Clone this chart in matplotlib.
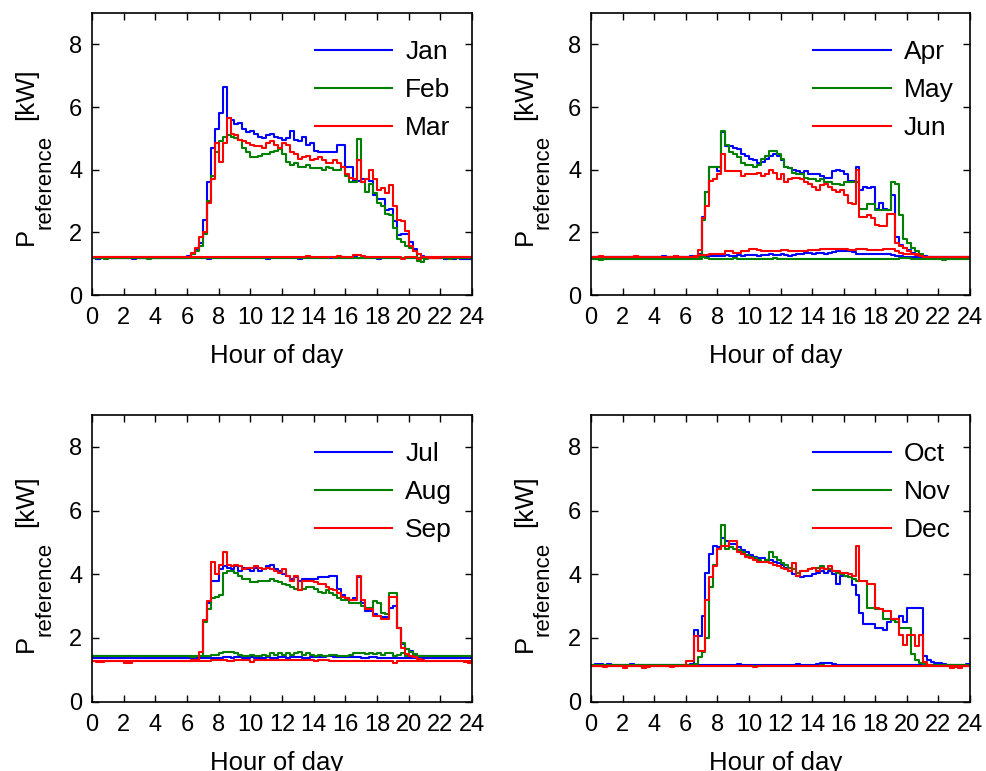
import numpy as np
import matplotlib
matplotlib.use("Agg")
import matplotlib.pyplot as plt
from matplotlib.transforms import offset_copy

plt.rcParams['font.family'] = ['Liberation Sans', 'DejaVu Sans']
plt.rcParams['font.size'] = 17

# quarter-hour mean load [kW], weekday profile (wd) and weekend profile (we)
# each row = 4 hours (16 quarter-hours)

jan_wd = [
    1.18, 1.15, 1.18, 1.18, 1.18, 1.18, 1.18, 1.18, 1.18, 1.18, 1.18, 1.18, 1.18, 1.18, 1.18, 1.18,
    1.18, 1.18, 1.18, 1.18, 1.18, 1.18, 1.18, 1.18, 1.25, 1.30, 1.45, 1.65, 2.40, 3.60, 4.70, 5.30,
    5.80, 6.65, 5.65, 5.60, 5.45, 5.50, 5.30, 5.20, 5.25, 5.15, 5.05, 5.00, 5.10, 5.15, 5.05, 5.00,
    4.95, 5.00, 5.25, 4.95, 4.90, 5.05, 4.80, 4.85, 4.60, 4.55, 4.55, 4.55, 4.55, 4.55, 4.80, 4.80,
    4.10, 4.10, 3.65, 3.65, 3.70, 3.70, 3.65, 3.20, 3.05, 3.05, 2.70, 2.75, 2.35, 1.90, 1.95, 1.95,
    1.68, 1.47, 1.30, 1.25, 1.22, 1.20, 1.18, 1.18, 1.18, 1.15, 1.18, 1.15, 1.18, 1.15, 1.15, 1.15]
feb_wd = [
    1.18, 1.18, 1.18, 1.16, 1.18, 1.18, 1.18, 1.18, 1.18, 1.18, 1.18, 1.18, 1.18, 1.18, 1.16, 1.18,
    1.18, 1.18, 1.18, 1.18, 1.18, 1.18, 1.18, 1.18, 1.20, 1.30, 1.40, 1.55, 1.95, 3.00, 3.80, 4.55,
    4.90, 5.05, 5.10, 5.05, 5.00, 4.95, 4.70, 4.55, 4.40, 4.40, 4.45, 4.50, 4.50, 4.55, 4.60, 4.65,
    4.50, 4.25, 4.15, 4.20, 4.10, 4.10, 4.15, 4.05, 4.05, 4.05, 4.00, 4.10, 4.05, 4.00, 4.00, 4.10,
    3.80, 3.60, 3.60, 4.99, 3.60, 3.30, 3.55, 3.25, 2.95, 2.85, 2.60, 2.55, 2.15, 1.80, 1.70, 1.55,
    1.50, 1.40, 1.10, 1.05, 1.15, 1.18, 1.18, 1.18, 1.18, 1.18, 1.16, 1.18, 1.18, 1.18, 1.18, 1.18]
mar_wd = [
    1.20, 1.20, 1.20, 1.20, 1.20, 1.20, 1.20, 1.20, 1.20, 1.20, 1.20, 1.20, 1.20, 1.20, 1.20, 1.20,
    1.20, 1.20, 1.20, 1.20, 1.20, 1.20, 1.20, 1.20, 1.20, 1.35, 1.50, 1.85, 2.00, 2.95, 3.70, 4.85,
    4.25, 4.85, 5.65, 5.15, 5.10, 4.95, 4.90, 4.85, 4.80, 4.75, 4.75, 4.70, 4.85, 4.90, 4.80, 4.70,
    4.85, 4.80, 4.55, 4.50, 4.35, 4.40, 4.45, 4.30, 4.35, 4.40, 4.30, 4.20, 4.20, 4.30, 4.20, 4.10,
    3.85, 3.75, 3.70, 4.30, 3.60, 3.70, 4.00, 3.70, 3.35, 3.40, 3.25, 3.50, 2.85, 2.40, 2.35, 2.05,
    1.55, 1.40, 1.30, 1.22, 1.20, 1.18, 1.18, 1.18, 1.20, 1.20, 1.20, 1.20, 1.20, 1.20, 1.20, 1.20]
jan_we = [
    1.18, 1.15, 1.18, 1.18, 1.18, 1.18, 1.18, 1.18, 1.18, 1.18, 1.15, 1.18, 1.18, 1.18, 1.18, 1.18,
    1.18, 1.18, 1.18, 1.18, 1.18, 1.18, 1.18, 1.18, 1.18, 1.18, 1.18, 1.18, 1.18, 1.16, 1.18, 1.18,
    1.18, 1.18, 1.18, 1.18, 1.18, 1.18, 1.18, 1.18, 1.18, 1.18, 1.18, 1.18, 1.15, 1.18, 1.18, 1.18,
    1.18, 1.18, 1.18, 1.18, 1.16, 1.18, 1.18, 1.18, 1.18, 1.18, 1.18, 1.18, 1.18, 1.18, 1.18, 1.18,
    1.18, 1.18, 1.20, 1.18, 1.18, 1.18, 1.18, 1.18, 1.15, 1.18, 1.18, 1.18, 1.18, 1.18, 1.18, 1.18,
    1.18, 1.18, 1.18, 1.18, 1.18, 1.18, 1.18, 1.18, 1.18, 1.15, 1.18, 1.15, 1.18, 1.15, 1.15, 1.15]
feb_we = [
    1.18, 1.18, 1.18, 1.18, 1.18, 1.18, 1.18, 1.18, 1.18, 1.18, 1.18, 1.18, 1.18, 1.18, 1.18, 1.18,
    1.18, 1.18, 1.18, 1.18, 1.18, 1.18, 1.18, 1.18, 1.18, 1.18, 1.18, 1.18, 1.18, 1.18, 1.18, 1.18,
    1.18, 1.18, 1.18, 1.18, 1.18, 1.18, 1.18, 1.18, 1.18, 1.18, 1.18, 1.18, 1.18, 1.18, 1.18, 1.18,
    1.18, 1.18, 1.18, 1.18, 1.18, 1.18, 1.18, 1.18, 1.18, 1.18, 1.18, 1.18, 1.20, 1.18, 1.18, 1.18,
    1.18, 1.18, 1.18, 1.18, 1.18, 1.18, 1.18, 1.18, 1.18, 1.18, 1.18, 1.18, 1.18, 1.18, 1.18, 1.18,
    1.18, 1.18, 1.18, 1.18, 1.18, 1.18, 1.18, 1.18, 1.18, 1.18, 1.18, 1.18, 1.18, 1.18, 1.18, 1.18]
mar_we = [
    1.20, 1.20, 1.20, 1.20, 1.20, 1.20, 1.20, 1.20, 1.20, 1.20, 1.20, 1.20, 1.20, 1.20, 1.20, 1.20,
    1.20, 1.20, 1.20, 1.20, 1.20, 1.20, 1.20, 1.20, 1.20, 1.20, 1.20, 1.20, 1.20, 1.20, 1.20, 1.20,
    1.20, 1.20, 1.20, 1.20, 1.20, 1.20, 1.20, 1.20, 1.20, 1.20, 1.20, 1.20, 1.22, 1.20, 1.20, 1.20,
    1.20, 1.20, 1.20, 1.20, 1.20, 1.20, 1.24, 1.20, 1.20, 1.20, 1.20, 1.20, 1.20, 1.20, 1.25, 1.20,
    1.20, 1.20, 1.28, 1.28, 1.24, 1.20, 1.20, 1.20, 1.20, 1.20, 1.22, 1.20, 1.20, 1.20, 1.15, 1.20,
    1.20, 1.20, 1.15, 1.20, 1.20, 1.20, 1.20, 1.20, 1.20, 1.20, 1.20, 1.20, 1.20, 1.20, 1.20, 1.20]

apr_wd = [
    1.22, 1.20, 1.22, 1.22, 1.20, 1.22, 1.22, 1.20, 1.22, 1.22, 1.20, 1.22, 1.22, 1.22, 1.22, 1.20,
    1.22, 1.22, 1.25, 1.22, 1.22, 1.25, 1.22, 1.22, 1.22, 1.25, 1.25, 1.30, 2.50, 3.30, 4.10, 4.10,
    3.95, 5.20, 4.75, 4.75, 4.70, 4.65, 4.50, 4.45, 4.35, 4.30, 4.20, 4.25, 4.35, 4.45, 4.50, 4.45,
    4.30, 4.10, 4.05, 4.00, 3.95, 3.90, 3.95, 3.85, 3.85, 3.85, 3.80, 3.75, 3.75, 3.95, 4.00, 3.95,
    3.85, 3.65, 3.65, 4.10, 3.35, 3.45, 3.40, 3.45, 2.75, 2.95, 2.75, 2.70, 3.20, 1.85, 1.60, 1.50,
    1.45, 1.35, 1.30, 1.28, 1.25, 1.22, 1.22, 1.20, 1.22, 1.22, 1.20, 1.22, 1.22, 1.22, 1.20, 1.22]
may_wd = [
    1.15, 1.15, 1.12, 1.15, 1.15, 1.15, 1.15, 1.15, 1.15, 1.15, 1.15, 1.15, 1.15, 1.15, 1.15, 1.15,
    1.15, 1.15, 1.15, 1.15, 1.15, 1.15, 1.15, 1.15, 1.15, 1.15, 1.20, 1.20, 2.40, 3.30, 4.10, 4.10,
    4.10, 5.25, 4.80, 4.55, 4.50, 4.40, 4.20, 4.15, 4.15, 4.10, 4.15, 4.35, 4.45, 4.60, 4.60, 4.50,
    4.35, 4.10, 4.05, 3.90, 3.85, 3.85, 3.75, 3.70, 3.70, 3.65, 3.70, 3.60, 3.60, 3.55, 3.55, 3.50,
    3.60, 3.60, 3.60, 3.60, 2.75, 2.75, 2.90, 2.90, 2.70, 2.70, 2.70, 2.70, 3.60, 3.55, 2.55, 1.80,
    1.65, 1.50, 1.40, 1.30, 1.22, 1.20, 1.18, 1.15, 1.15, 1.12, 1.15, 1.15, 1.15, 1.15, 1.15, 1.15]
jun_wd = [
    1.22, 1.22, 1.25, 1.22, 1.22, 1.22, 1.20, 1.22, 1.22, 1.22, 1.22, 1.25, 1.22, 1.20, 1.20, 1.22,
    1.22, 1.22, 1.22, 1.22, 1.22, 1.25, 1.22, 1.22, 1.22, 1.22, 1.25, 1.43, 2.45, 2.85, 3.65, 3.70,
    3.85, 4.50, 3.95, 3.95, 3.95, 3.95, 3.80, 3.85, 3.85, 3.85, 3.90, 3.80, 3.85, 4.00, 3.90, 3.70,
    3.85, 3.60, 3.70, 3.75, 3.75, 3.70, 3.60, 3.55, 3.45, 3.35, 3.50, 3.55, 3.45, 3.35, 3.30, 3.35,
    3.20, 2.95, 2.90, 4.00, 2.50, 2.50, 2.55, 2.45, 2.25, 2.20, 2.20, 2.60, 2.60, 1.65, 1.55, 1.50,
    1.40, 1.32, 1.30, 1.25, 1.22, 1.20, 1.22, 1.22, 1.22, 1.22, 1.22, 1.22, 1.22, 1.22, 1.22, 1.22]
apr_we = [
    1.22, 1.22, 1.22, 1.22, 1.22, 1.22, 1.22, 1.22, 1.22, 1.22, 1.22, 1.22, 1.22, 1.22, 1.22, 1.22,
    1.22, 1.22, 1.22, 1.22, 1.22, 1.22, 1.22, 1.22, 1.22, 1.22, 1.22, 1.22, 1.22, 1.24, 1.24, 1.25,
    1.25, 1.25, 1.28, 1.25, 1.25, 1.28, 1.25, 1.28, 1.28, 1.28, 1.25, 1.28, 1.28, 1.30, 1.28, 1.28,
    1.30, 1.28, 1.25, 1.28, 1.30, 1.30, 1.35, 1.35, 1.32, 1.35, 1.35, 1.30, 1.35, 1.38, 1.42, 1.42,
    1.42, 1.42, 1.38, 1.30, 1.30, 1.30, 1.32, 1.30, 1.30, 1.30, 1.30, 1.30, 1.28, 1.25, 1.25, 1.22,
    1.22, 1.22, 1.22, 1.22, 1.22, 1.22, 1.22, 1.22, 1.22, 1.22, 1.22, 1.22, 1.22, 1.22, 1.22, 1.22]
may_we = [
    1.15, 1.15, 1.15, 1.15, 1.15, 1.15, 1.15, 1.15, 1.15, 1.15, 1.15, 1.15, 1.15, 1.15, 1.15, 1.15,
    1.15, 1.15, 1.15, 1.15, 1.15, 1.15, 1.15, 1.15, 1.15, 1.15, 1.15, 1.15, 1.20, 1.18, 1.15, 1.15,
    1.15, 1.15, 1.15, 1.15, 1.18, 1.15, 1.15, 1.15, 1.15, 1.15, 1.15, 1.15, 1.15, 1.15, 1.18, 1.15,
    1.15, 1.15, 1.15, 1.15, 1.15, 1.15, 1.15, 1.15, 1.15, 1.15, 1.15, 1.15, 1.15, 1.15, 1.15, 1.15,
    1.15, 1.15, 1.15, 1.15, 1.15, 1.15, 1.15, 1.15, 1.15, 1.15, 1.15, 1.15, 1.15, 1.15, 1.18, 1.18,
    1.18, 1.15, 1.15, 1.15, 1.15, 1.15, 1.15, 1.15, 1.15, 1.15, 1.15, 1.15, 1.15, 1.15, 1.15, 1.15]
jun_we = [
    1.22, 1.22, 1.22, 1.22, 1.22, 1.22, 1.22, 1.22, 1.22, 1.22, 1.22, 1.22, 1.22, 1.22, 1.22, 1.22,
    1.22, 1.22, 1.22, 1.22, 1.22, 1.22, 1.22, 1.22, 1.22, 1.22, 1.22, 1.28, 1.28, 1.28, 1.30, 1.30,
    1.30, 1.32, 1.42, 1.42, 1.35, 1.35, 1.40, 1.40, 1.48, 1.48, 1.45, 1.40, 1.40, 1.42, 1.42, 1.40,
    1.45, 1.45, 1.40, 1.40, 1.40, 1.40, 1.42, 1.45, 1.45, 1.45, 1.48, 1.48, 1.48, 1.48, 1.48, 1.48,
    1.48, 1.45, 1.45, 1.48, 1.48, 1.48, 1.45, 1.45, 1.45, 1.45, 1.48, 1.48, 1.48, 1.40, 1.35, 1.32,
    1.32, 1.32, 1.28, 1.25, 1.22, 1.22, 1.22, 1.22, 1.22, 1.22, 1.22, 1.22, 1.22, 1.22, 1.22, 1.22]

jul_wd = [
    1.42, 1.45, 1.40, 1.40, 1.40, 1.40, 1.40, 1.40, 1.40, 1.42, 1.40, 1.38, 1.40, 1.40, 1.40, 1.40,
    1.40, 1.40, 1.40, 1.40, 1.40, 1.40, 1.40, 1.40, 1.40, 1.40, 1.40, 1.45, 2.55, 3.10, 3.80, 3.80,
    4.15, 4.25, 4.20, 4.15, 4.25, 4.10, 4.20, 4.15, 4.10, 4.20, 4.10, 4.15, 4.25, 4.30, 4.15, 4.10,
    4.00, 3.95, 3.85, 3.90, 3.80, 3.85, 3.85, 3.85, 3.85, 3.90, 3.90, 3.90, 3.95, 3.95, 3.55, 3.35,
    3.25, 3.20, 3.25, 3.90, 3.10, 2.85, 2.85, 2.75, 2.70, 2.65, 2.65, 2.95, 3.00, 2.30, 1.80, 1.65,
    1.60, 1.50, 1.45, 1.42, 1.40, 1.40, 1.40, 1.40, 1.40, 1.40, 1.40, 1.40, 1.40, 1.40, 1.40, 1.40]
aug_wd = [
    1.42, 1.42, 1.45, 1.42, 1.42, 1.42, 1.42, 1.42, 1.42, 1.42, 1.42, 1.42, 1.42, 1.42, 1.42, 1.42,
    1.42, 1.42, 1.42, 1.42, 1.42, 1.42, 1.42, 1.42, 1.42, 1.40, 1.42, 1.45, 2.50, 2.90, 3.25, 3.30,
    3.35, 4.05, 4.10, 4.10, 4.05, 3.95, 3.85, 3.85, 3.75, 3.75, 3.80, 3.80, 3.80, 3.85, 3.80, 3.75,
    3.70, 3.65, 3.60, 3.55, 3.50, 3.55, 3.60, 3.60, 3.55, 3.45, 3.40, 3.50, 3.40, 3.35, 3.25, 3.20,
    3.20, 3.10, 3.10, 3.10, 3.00, 2.95, 2.95, 3.15, 3.10, 2.80, 2.75, 3.40, 3.40, 2.30, 1.85, 1.65,
    1.55, 1.50, 1.45, 1.42, 1.42, 1.42, 1.42, 1.42, 1.42, 1.42, 1.42, 1.42, 1.42, 1.42, 1.42, 1.42]
sep_wd = [
    1.28, 1.25, 1.25, 1.28, 1.28, 1.28, 1.28, 1.28, 1.22, 1.22, 1.28, 1.28, 1.28, 1.28, 1.28, 1.28,
    1.28, 1.28, 1.28, 1.28, 1.28, 1.28, 1.28, 1.28, 1.28, 1.30, 1.30, 1.55, 2.55, 3.15, 4.40, 4.00,
    4.30, 4.70, 4.30, 4.25, 4.30, 4.25, 4.15, 4.20, 4.20, 4.25, 4.20, 4.15, 4.20, 4.15, 4.10, 4.05,
    4.15, 3.95, 3.80, 3.95, 3.50, 3.80, 3.80, 3.80, 3.75, 3.70, 3.70, 3.60, 3.55, 3.50, 3.40, 3.30,
    3.25, 3.20, 3.20, 3.95, 3.20, 2.90, 2.90, 2.70, 2.70, 2.60, 2.60, 3.30, 3.30, 2.30, 1.70, 1.50,
    1.45, 1.40, 1.35, 1.30, 1.28, 1.28, 1.28, 1.28, 1.28, 1.28, 1.28, 1.28, 1.28, 1.28, 1.25, 1.22]
jul_we = [
    1.38, 1.38, 1.38, 1.38, 1.38, 1.38, 1.38, 1.38, 1.38, 1.38, 1.38, 1.38, 1.38, 1.38, 1.38, 1.38,
    1.38, 1.38, 1.38, 1.38, 1.38, 1.38, 1.38, 1.38, 1.38, 1.38, 1.38, 1.38, 1.38, 1.38, 1.38, 1.38,
    1.38, 1.40, 1.40, 1.38, 1.40, 1.40, 1.38, 1.38, 1.40, 1.38, 1.38, 1.38, 1.40, 1.38, 1.38, 1.40,
    1.40, 1.38, 1.40, 1.40, 1.40, 1.38, 1.38, 1.40, 1.40, 1.40, 1.40, 1.42, 1.42, 1.40, 1.40, 1.40,
    1.40, 1.40, 1.40, 1.40, 1.38, 1.38, 1.40, 1.40, 1.38, 1.38, 1.38, 1.38, 1.38, 1.38, 1.38, 1.38,
    1.38, 1.38, 1.38, 1.38, 1.38, 1.38, 1.38, 1.38, 1.38, 1.38, 1.38, 1.38, 1.38, 1.38, 1.38, 1.38]
aug_we = [
    1.42, 1.42, 1.42, 1.42, 1.42, 1.42, 1.42, 1.42, 1.42, 1.42, 1.42, 1.42, 1.42, 1.42, 1.42, 1.42,
    1.42, 1.42, 1.42, 1.42, 1.42, 1.42, 1.42, 1.42, 1.42, 1.42, 1.42, 1.42, 1.42, 1.45, 1.48, 1.48,
    1.52, 1.55, 1.55, 1.55, 1.52, 1.48, 1.45, 1.45, 1.48, 1.45, 1.45, 1.48, 1.45, 1.52, 1.48, 1.52,
    1.48, 1.52, 1.48, 1.52, 1.55, 1.48, 1.52, 1.48, 1.45, 1.48, 1.45, 1.45, 1.48, 1.48, 1.45, 1.45,
    1.45, 1.48, 1.52, 1.52, 1.52, 1.50, 1.52, 1.50, 1.52, 1.48, 1.52, 1.52, 1.45, 1.48, 1.52, 1.45,
    1.42, 1.42, 1.42, 1.42, 1.42, 1.42, 1.42, 1.42, 1.42, 1.42, 1.42, 1.42, 1.42, 1.42, 1.42, 1.42]
sep_we = [
    1.28, 1.28, 1.28, 1.28, 1.28, 1.28, 1.28, 1.28, 1.28, 1.28, 1.28, 1.28, 1.28, 1.28, 1.28, 1.28,
    1.28, 1.28, 1.28, 1.28, 1.28, 1.28, 1.28, 1.28, 1.28, 1.28, 1.28, 1.28, 1.28, 1.28, 1.30, 1.30,
    1.30, 1.30, 1.28, 1.28, 1.30, 1.30, 1.30, 1.30, 1.25, 1.30, 1.30, 1.30, 1.30, 1.30, 1.30, 1.30,
    1.30, 1.30, 1.30, 1.30, 1.30, 1.30, 1.30, 1.30, 1.28, 1.30, 1.30, 1.30, 1.28, 1.28, 1.28, 1.28,
    1.28, 1.28, 1.28, 1.28, 1.28, 1.28, 1.28, 1.28, 1.28, 1.28, 1.28, 1.28, 1.22, 1.28, 1.28, 1.28,
    1.28, 1.28, 1.28, 1.28, 1.28, 1.28, 1.28, 1.28, 1.28, 1.28, 1.28, 1.28, 1.28, 1.28, 1.28, 1.28]

oct_wd = [
    1.15, 1.15, 1.18, 1.15, 1.15, 1.15, 1.15, 1.15, 1.15, 1.15, 1.15, 1.15, 1.15, 1.15, 1.15, 1.15,
    1.15, 1.15, 1.15, 1.15, 1.15, 1.15, 1.15, 1.15, 1.15, 1.18, 2.25, 2.05, 2.70, 4.05, 4.65, 4.90,
    4.85, 5.15, 5.05, 4.95, 4.95, 4.85, 4.75, 4.70, 4.60, 4.55, 4.50, 4.50, 4.45, 4.45, 4.40, 4.35,
    4.30, 4.20, 4.10, 4.00, 3.95, 3.90, 3.95, 3.95, 4.00, 4.05, 4.10, 4.05, 4.10, 4.00, 3.70, 3.95,
    3.95, 3.90, 3.65, 3.35, 2.80, 2.45, 2.45, 2.45, 2.30, 2.30, 2.25, 2.50, 2.60, 2.50, 2.70, 2.50,
    2.95, 2.95, 2.95, 2.95, 1.45, 1.30, 1.25, 1.22, 1.20, 1.18, 1.15, 1.15, 1.15, 1.15, 1.12, 1.15]
nov_wd = [
    1.15, 1.15, 1.15, 1.15, 1.15, 1.15, 1.15, 1.15, 1.15, 1.15, 1.15, 1.15, 1.15, 1.15, 1.15, 1.15,
    1.15, 1.15, 1.15, 1.15, 1.15, 1.15, 1.15, 1.15, 1.15, 1.15, 1.18, 1.40, 1.55, 2.00, 3.60, 4.30,
    4.80, 5.55, 4.80, 4.85, 4.80, 4.75, 4.70, 4.60, 4.55, 4.50, 4.45, 4.40, 4.45, 4.70, 4.55, 4.45,
    4.35, 4.30, 4.20, 4.15, 4.05, 4.10, 4.10, 4.15, 4.20, 4.20, 4.25, 4.15, 4.15, 4.10, 4.05, 4.00,
    3.95, 3.90, 3.85, 3.80, 3.80, 3.80, 2.95, 2.95, 2.90, 2.90, 2.60, 2.60, 2.55, 2.50, 2.30, 2.30,
    2.30, 1.50, 1.30, 1.22, 1.18, 1.15, 1.15, 1.15, 1.15, 1.15, 1.15, 1.15, 1.15, 1.15, 1.15, 1.15]
dec_wd = [
    1.12, 1.12, 1.12, 1.12, 1.12, 1.12, 1.12, 1.12, 1.12, 1.12, 1.12, 1.12, 1.12, 1.12, 1.12, 1.12,
    1.12, 1.12, 1.12, 1.12, 1.12, 1.12, 1.12, 1.12, 1.28, 1.28, 2.05, 1.60, 1.60, 3.20, 3.90, 4.25,
    4.80, 4.90, 4.90, 5.05, 5.05, 4.70, 4.65, 4.55, 4.50, 4.45, 4.40, 4.40, 4.40, 4.35, 4.30, 4.25,
    4.20, 4.15, 4.10, 4.35, 3.95, 4.10, 4.10, 4.15, 4.20, 4.10, 4.20, 4.15, 4.25, 4.10, 4.10, 4.05,
    4.05, 4.00, 3.95, 4.90, 3.80, 3.80, 3.70, 3.70, 2.95, 2.90, 2.85, 2.85, 2.60, 2.60, 2.10, 1.78,
    2.10, 2.10, 1.75, 2.10, 1.25, 1.15, 1.12, 1.12, 1.12, 1.12, 1.12, 1.12, 1.12, 1.12, 1.12, 1.12]
oct_we = [
    1.15, 1.18, 1.15, 1.15, 1.18, 1.15, 1.15, 1.15, 1.15, 1.15, 1.18, 1.15, 1.15, 1.15, 1.15, 1.15,
    1.15, 1.15, 1.15, 1.15, 1.15, 1.15, 1.15, 1.15, 1.15, 1.15, 1.15, 1.15, 1.15, 1.15, 1.15, 1.15,
    1.15, 1.15, 1.15, 1.15, 1.15, 1.18, 1.15, 1.15, 1.15, 1.15, 1.15, 1.15, 1.15, 1.15, 1.15, 1.15,
    1.15, 1.15, 1.15, 1.15, 1.18, 1.15, 1.15, 1.15, 1.15, 1.18, 1.22, 1.22, 1.22, 1.18, 1.15, 1.15,
    1.15, 1.15, 1.15, 1.15, 1.15, 1.15, 1.15, 1.15, 1.15, 1.15, 1.15, 1.15, 1.15, 1.15, 1.15, 1.15,
    1.15, 1.15, 1.15, 1.15, 1.15, 1.15, 1.15, 1.15, 1.15, 1.15, 1.15, 1.15, 1.15, 1.15, 1.15, 1.18]
nov_we = [
    1.12, 1.12, 1.12, 1.12, 1.12, 1.12, 1.12, 1.12, 1.12, 1.12, 1.12, 1.12, 1.12, 1.12, 1.12, 1.12,
    1.12, 1.12, 1.12, 1.12, 1.12, 1.12, 1.12, 1.12, 1.12, 1.12, 1.12, 1.12, 1.12, 1.12, 1.12, 1.12,
    1.12, 1.12, 1.12, 1.12, 1.12, 1.12, 1.12, 1.12, 1.12, 1.12, 1.12, 1.12, 1.12, 1.12, 1.12, 1.12,
    1.12, 1.12, 1.12, 1.12, 1.12, 1.12, 1.12, 1.12, 1.12, 1.12, 1.15, 1.12, 1.12, 1.12, 1.12, 1.12,
    1.12, 1.12, 1.12, 1.12, 1.12, 1.12, 1.12, 1.12, 1.12, 1.12, 1.12, 1.12, 1.12, 1.12, 1.12, 1.12,
    1.12, 1.12, 1.12, 1.12, 1.12, 1.12, 1.12, 1.12, 1.12, 1.12, 1.12, 1.12, 1.12, 1.12, 1.12, 1.12]
dec_we = [
    1.12, 1.12, 1.12, 1.08, 1.12, 1.12, 1.12, 1.12, 1.05, 1.12, 1.12, 1.12, 1.12, 1.05, 1.08, 1.12,
    1.12, 1.12, 1.12, 1.12, 1.08, 1.12, 1.12, 1.12, 1.12, 1.12, 1.12, 1.12, 1.12, 1.12, 1.12, 1.12,
    1.12, 1.12, 1.12, 1.12, 1.12, 1.12, 1.12, 1.12, 1.12, 1.10, 1.12, 1.12, 1.12, 1.12, 1.12, 1.12,
    1.12, 1.12, 1.12, 1.12, 1.12, 1.12, 1.12, 1.12, 1.12, 1.12, 1.12, 1.12, 1.12, 1.12, 1.12, 1.12,
    1.12, 1.12, 1.12, 1.12, 1.12, 1.12, 1.12, 1.12, 1.12, 1.12, 1.12, 1.12, 1.12, 1.12, 1.12, 1.12,
    1.12, 1.12, 1.12, 1.12, 1.12, 1.12, 1.12, 1.12, 1.12, 1.12, 1.12, 1.05, 1.08, 1.05, 1.12, 1.12]

month_names = [["Jan", "Feb", "Mar"], ["Apr", "May", "Jun"],
               ["Jul", "Aug", "Sep"], ["Oct", "Nov", "Dec"]]
weekday = [[jan_wd, feb_wd, mar_wd], [apr_wd, may_wd, jun_wd],
           [jul_wd, aug_wd, sep_wd], [oct_wd, nov_wd, dec_wd]]
weekend = [[jan_we, feb_we, mar_we], [apr_we, may_we, jun_we],
           [jul_we, aug_we, sep_we], [oct_we, nov_we, dec_we]]
colors = ['#0000ff', '#008000', '#ff0000']

W, H = 987, 771
fig = plt.figure(figsize=(W / 100, H / 100), dpi=100)

# axes boxes in pixels: left, top, right, bottom
boxes = [(92, 13, 472, 295), (591, 13, 970, 295),
         (92, 415, 472, 701.7), (591, 415, 970, 701.7)]

edges = np.arange(97) * 0.25

for k in range(4):
    l, t, r, b = boxes[k]
    ax = fig.add_axes([l / W, 1 - b / H, (r - l) / W, (b - t) / H])
    for name, wd, we, c in zip(month_names[k], weekday[k], weekend[k], colors):
        ax.plot(edges, np.append(wd, wd[-1]), drawstyle='steps-post', color=c, lw=1.5, label=name)
        ax.plot(edges, np.append(we, we[-1]), drawstyle='steps-post', color=c, lw=1.5)
    ax.set_xlim(0, 24)
    ax.set_ylim(0, 9)
    ax.set_xticks(range(0, 25, 2))
    ax.set_yticks(range(0, 9, 2))
    ax.tick_params(direction='in', top=True, right=True, length=5, width=1, labelsize=17)
    ax.tick_params(axis='x', pad=9)
    ax.tick_params(axis='y', pad=7)
    for s in ax.spines.values():
        s.set_linewidth(1.2)

    ax.legend(loc='upper left', bbox_to_anchor=(0.587, 0.905), frameon=False,
              handlelength=2.92, handletextpad=0.5, labelspacing=0.53,
              borderpad=0, borderaxespad=0, fontsize=19)

    # x label
    ax.text(0.487, 0, 'Hour of day', ha='center', va='baseline', fontsize=18.5,
            transform=offset_copy(ax.transAxes, fig=fig, x=0, y=-68, units='dots'))
    # y label: P with large subscript "reference"
    kw = dict(rotation=90, rotation_mode='anchor', ha='left', va='baseline')
    ax.text(0, 0, 'P', fontsize=18.5,
            transform=offset_copy(ax.transAxes, fig=fig, x=-59, y=50, units='dots'), **kw)
    ax.text(0, 0, 'reference', fontsize=16,
            transform=offset_copy(ax.transAxes, fig=fig, x=-42, y=66, units='dots'), **kw)
    ax.text(0, 0, '[kW]', fontsize=18.5,
            transform=offset_copy(ax.transAxes, fig=fig, x=-59, y=175, units='dots'), **kw)

fig.savefig('out.png', dpi=100)
